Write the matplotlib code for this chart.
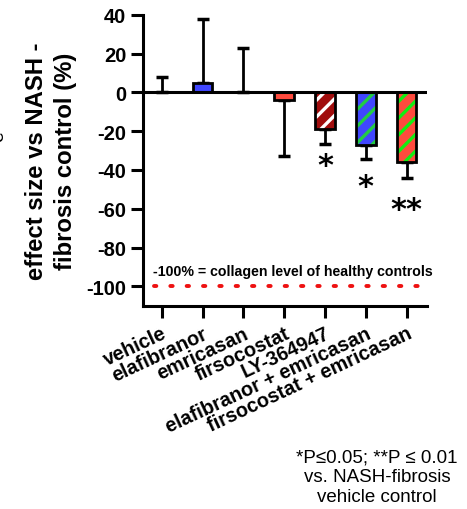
import matplotlib
matplotlib.use("Agg")
import matplotlib.pyplot as plt
import numpy as np

categories = ["vehicle", "elafibranor", "emricasan", "firsocostat", "LY-364947",
              "elafibranor + emricasan", "firsocostat + emricasan"]
values = [0, 5, 0, -4, -19, -27, -36]
errors = [7.7, 33, 22.7, 29, 7.6, 7.5, 8.2]
stars = ["", "", "", "", "*", "*", "**"]
star_y = [0, 0, 0, 0, -37.5, -48.5, -60.5]
face_colors = ["white", "#4046ff", "white", "#ff4a3d", "#a00d0d", "#4046ff", "#ff4a3d"]
hatch_colors = [None, None, None, None, "white", "#22cc44", "#11ee11"]

plt.rcParams['font.family'] = ['Liberation Sans', 'DejaVu Sans']
plt.rcParams['hatch.linewidth'] = 2.4

fig = plt.figure(figsize=(4.67, 5.10), dpi=100)
ax = fig.add_axes([0.3056, 0.3986, 0.6087, 0.5706])

x = np.arange(len(categories))
w = 0.48
for i in range(len(categories)):
    v = values[i]
    if hatch_colors[i] is not None:
        ax.bar(x[i], v, width=w, color=face_colors[i], edgecolor=hatch_colors[i],
               hatch='//', linewidth=0, zorder=2)
        ax.bar(x[i], v, width=w, fill=False, edgecolor='black', linewidth=2, zorder=3)
    elif v != 0:
        ax.bar(x[i], v, width=w, color=face_colors[i], edgecolor='black',
               linewidth=2, zorder=3)
    # one-sided error
    if v >= 0:
        yerr = [[0], [errors[i]]]
    else:
        yerr = [[errors[i]], [0]]
    ax.errorbar(x[i], v, yerr=yerr, fmt='none', ecolor='black', elinewidth=2,
                capsize=4, capthick=2.5, zorder=1)
    if stars[i]:
        ax.text(x[i], star_y[i], stars[i], ha='center', va='center',
                fontsize=22, fontweight='bold', family='DejaVu Sans')

ax.axhline(0, color='black', linewidth=2.2, zorder=4)
ax.plot([-0.2, 6.5], [-100, -100], linestyle=(0, (0.6, 3.6)), color='#ee1111',
        linewidth=2.8, dash_capstyle='round', solid_capstyle='round', clip_on=False)
ax.text(-0.22, -92, "-100% = collagen level of healthy controls", fontsize=10.2,
        fontweight='bold', ha='left', va='center')

ax.set_xlim(-0.47, 6.5)
ax.set_ylim(-110, 40)
ax.set_yticks([40, 20, 0, -20, -40, -60, -80, -100])
ax.set_yticklabels(["40", "20", "0", "-20", "-40", "-60", "-80", "-100"],
                   fontsize=14.5, fontweight='bold')
ax.set_xticks(x)
ax.set_xticklabels(categories, rotation=25, ha='right', rotation_mode='anchor',
                   fontsize=14.3, fontweight='bold')
ax.spines['top'].set_visible(False)
ax.spines['right'].set_visible(False)
ax.spines['left'].set_linewidth(2.2)
ax.spines['bottom'].set_linewidth(2.2)
ax.tick_params(axis='both', width=2.2, length=8.8)
ax.tick_params(axis='y', pad=3)
ax.tick_params(axis='x', pad=4)

ax.set_ylabel("effect size vs NASH -\nfibrosis control (%)", fontsize=17.2,
              fontweight='bold', labelpad=7, linespacing=1.3)

fig.text(-0.003, 0.733, "e", rotation=90, fontsize=14, ha='center', va='center')

fig.text(0.807, 0.063, "*P\u22640.05; **P \u2264 0.01\nvs. NASH-fibrosis\nvehicle control",
         fontsize=13.5, ha='center', va='center', linespacing=1.2)

fig.savefig("out.png", dpi=100)
